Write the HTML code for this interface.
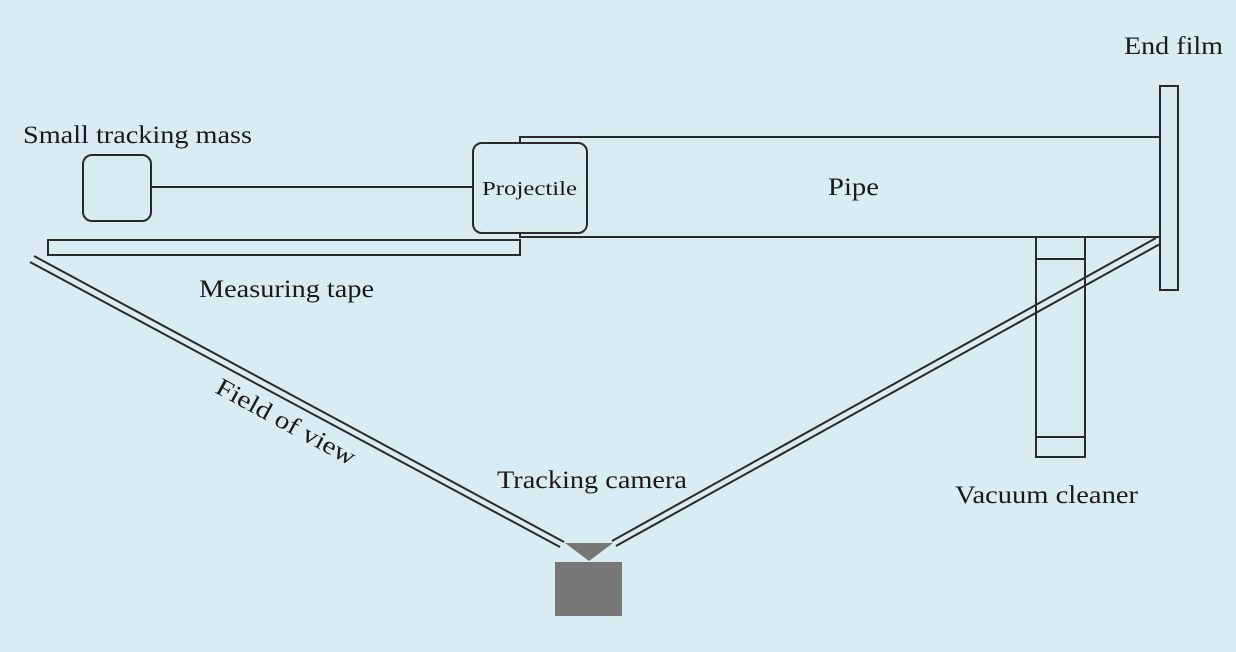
<!DOCTYPE html>
<html><head><meta charset="utf-8"><style>
html,body{margin:0;padding:0;background:#d9ecf3;}
svg{display:block;}
text{font-family:"Liberation Serif",serif;fill:#1a1a1a;}
</style></head><body>
<svg width="1236" height="652" viewBox="0 0 1236 652" xmlns="http://www.w3.org/2000/svg">
<rect width="1236" height="652" fill="#d9ecf3"/>
<g fill="none" stroke="#2a2a2a" stroke-width="2">
<rect x="83" y="155" width="68" height="66" rx="9"/>
<line x1="151" y1="187" x2="473" y2="187"/>
<rect x="473" y="143" width="114" height="90" rx="9"/>
<polyline points="520,143 520,137 1160,137"/>
<line x1="587" y1="237" x2="1160" y2="237"/>
<polyline points="520,233 520,237 587,237"/>
<rect x="48" y="240" width="472" height="15"/>
<rect x="1160" y="86" width="18" height="204"/>
<rect x="1036" y="237" width="49" height="220"/>
<line x1="1036" y1="259" x2="1085" y2="259"/>
<line x1="1036" y1="437" x2="1085" y2="437"/>
<line x1="34" y1="256" x2="564" y2="542"/>
<line x1="30" y1="262" x2="560" y2="547"/>
<line x1="1156" y1="238" x2="612" y2="541"/>
<line x1="1160" y1="244" x2="616" y2="546"/>
</g>
<polygon points="565,543 613,543 589,561" fill="#777"/>
<rect x="555" y="562" width="67" height="54" fill="#777"/>
<text x="23" y="143" font-size="25" textLength="229" lengthAdjust="spacingAndGlyphs">Small tracking mass</text>
<text x="482" y="195" font-size="20" textLength="95" lengthAdjust="spacingAndGlyphs">Projectile</text>
<text x="828" y="195" font-size="25" textLength="51" lengthAdjust="spacingAndGlyphs">Pipe</text>
<text x="199" y="297" font-size="25" textLength="175" lengthAdjust="spacingAndGlyphs">Measuring tape</text>
<text x="1124" y="54" font-size="25" textLength="99" lengthAdjust="spacingAndGlyphs">End film</text>
<text x="497" y="488" font-size="25" textLength="190" lengthAdjust="spacingAndGlyphs">Tracking camera</text>
<text x="955" y="503" font-size="25" textLength="183" lengthAdjust="spacingAndGlyphs">Vacuum cleaner</text>
<text x="0" y="0" font-size="25" textLength="155" lengthAdjust="spacingAndGlyphs" transform="translate(214,392) rotate(28.5)">Field of view</text>
</svg>
</body></html>
